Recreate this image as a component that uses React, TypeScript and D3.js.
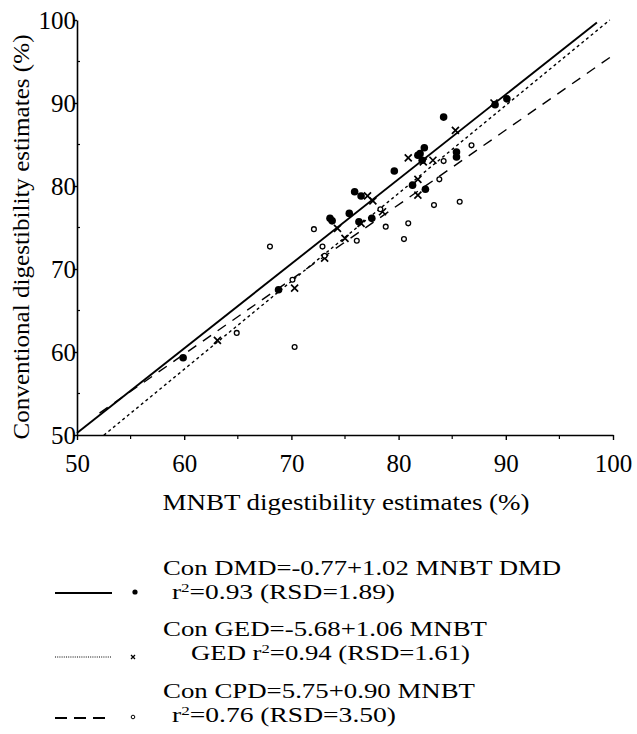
import React, { useEffect, useRef } from 'react';
import * as d3 from 'd3';

// DMD (filled circles)
const dmdX = [59.9, 68.8, 73.8, 73.6, 75.4, 75.9, 76.5, 76.3, 77.5, 79.6, 81.3, 81.8, 82.0, 82.4, 82.2, 82.5, 84.2, 85.4, 85.4, 89.0, 90.1];
const dmdY = [59.3, 67.5, 75.8, 76.1, 76.7, 79.3, 78.8, 75.7, 76.1, 81.8, 80.1, 83.7, 83.9, 84.6, 83.1, 79.6, 88.3, 84.1, 83.5, 89.8, 90.5];

// GED (crosses)
const gedX = [63.1, 70.3, 73.1, 74.3, 75.0, 76.5, 77.1, 77.6, 78.5, 80.9, 81.8, 81.8, 82.3, 83.2, 85.3, 88.9];
const gedY = [61.4, 67.7, 71.3, 74.9, 73.7, 75.5, 78.8, 78.2, 76.9, 83.4, 80.8, 78.9, 82.9, 83.1, 86.7, 90.0];

// CPD (open circles)
const cpdX = [64.9, 68.0, 70.1, 70.3, 72.1, 72.9, 73.1, 76.1, 78.3, 78.8, 80.5, 80.9, 83.3, 83.8, 84.2, 85.7, 86.8];
const cpdY = [62.3, 72.7, 68.7, 60.6, 74.8, 72.7, 71.6, 73.4, 77.2, 75.1, 73.6, 75.5, 77.7, 80.8, 83.0, 78.1, 84.9];

// regression lines: [intercept, slope, xStart, xEnd]
const dmdFit = [-0.77, 1.02, 50, 98.5];
const gedFit = [-5.68, 1.06, 52.5, 99.7];
const cpdFit = [5.75, 0.9, 52.1, 100];

const majorTicks = [50, 60, 70, 80, 90, 100];
const minorTicks = [55, 65, 75, 85, 95];

const legendText = [
  ['Con DMD=-0.77+1.02 MNBT DMD', 'r2=0.93 (RSD=1.89)'],
  ['Con GED=-5.68+1.06 MNBT', 'GED r2=0.94 (RSD=1.61)'],
  ['Con CPD=5.75+0.90 MNBT', 'r2=0.76 (RSD=3.50)'],
];

const font = '"Liberation Serif", "Times New Roman", serif';

const App = () => {
  const xAxisRef = useRef();
  const yAxisRef = useRef();

  const x = d3.scaleLinear().domain([50, 100]).range([77, 613]);
  const y = d3.scaleLinear().domain([50, 100]).range([435, 20]);

  useEffect(() => {
    const xa = d3.select(xAxisRef.current);
    xa.call(d3.axisBottom(x).tickValues(majorTicks).tickSize(5).tickSizeOuter(0).tickPadding(14).tickFormat(d3.format('d')));
    xa.select('.domain').attr('stroke-width', 1.6);
    xa.selectAll('.tick line').attr('stroke-width', 1.4);
    xa.selectAll('text').attr('font-size', 25).attr('font-family', font).attr('fill', '#000');

    const ya = d3.select(yAxisRef.current);
    ya.call(d3.axisLeft(y).tickValues(majorTicks).tickSize(4).tickSizeOuter(0).tickPadding(-3).tickFormat(d3.format('d')));
    ya.select('.domain').attr('stroke-width', 1.6);
    ya.selectAll('.tick line').attr('stroke-width', 1.4);
    ya.selectAll('text').attr('font-size', 25).attr('font-family', font).attr('fill', '#000');
  }, []);

  const fitLine = (fit) => {
    const [a, b, x0, x1] = fit;
    return d3.line().x((d) => x(d)).y((d) => y(a + b * d))([x0, x1]);
  };

  const legendRows = [
    { y: 593, dash: null, w: 2.2, kind: 'dot', ty: [575, 599], tx: [163, 172], tl: [398, 223] },
    { y: 657, dash: '1,1.2', w: 1, kind: 'x', ty: [636, 660], tx: [163, 191], tl: [324, 279] },
    { y: 718, dash: '12,7', w: 2.2, kind: 'o', ty: [698, 722], tx: [163, 172], tl: [312, 224] },
  ];

  const renderR2 = (s) => {
    const idx = s.indexOf('r2');
    return (
      <>
        {s.slice(0, idx)}r<tspan dy={-7} fontSize={13}>2</tspan>
        <tspan dy={7}>{s.slice(idx + 2)}</tspan>
      </>
    );
  };

  return (
    <svg width={637} height={734} style={{ position: 'absolute', left: 0, top: 0, background: '#fff' }} fontFamily={font}>
      <rect width={637} height={734} fill="#fff" />
      <g ref={xAxisRef} transform="translate(0,435)" />
      <g ref={yAxisRef} transform="translate(77,0)" />
      {minorTicks.map((t) => (
        <line key={'mx' + t} x1={x(t)} x2={x(t)} y1={435} y2={439} stroke="#000" strokeWidth={1.2} />
      ))}
      {minorTicks.map((t) => (
        <line key={'my' + t} x1={77} x2={80} y1={y(t)} y2={y(t)} stroke="#000" strokeWidth={1.2} />
      ))}

      <path d={fitLine(dmdFit)} stroke="#000" strokeWidth={1.9} fill="none" />
      <path d={fitLine(gedFit)} stroke="#000" strokeWidth={1.4} strokeDasharray="3,3" fill="none" />
      <path d={fitLine(cpdFit)} stroke="#000" strokeWidth={1.4} strokeDasharray="10,8" fill="none" />

      {dmdX.map((v, i) => (
        <circle key={'d' + i} cx={x(v)} cy={y(dmdY[i])} r={3.8} fill="#000" />
      ))}
      {gedX.map((v, i) => (
        <path key={'g' + i} d={`M${x(v) - 3.5},${y(gedY[i]) - 3.5}L${x(v) + 3.5},${y(gedY[i]) + 3.5}M${x(v) - 3.5},${y(gedY[i]) + 3.5}L${x(v) + 3.5},${y(gedY[i]) - 3.5}`} stroke="#000" strokeWidth={1.7} />
      ))}
      {cpdX.map((v, i) => (
        <circle key={'c' + i} cx={x(v)} cy={y(cpdY[i])} r={2.4} fill="#fff" stroke="#000" strokeWidth={1.3} />
      ))}

      <text x={346} y={510} fontSize={24} textAnchor="middle" textLength={367} lengthAdjust="spacingAndGlyphs">MNBT digestibility estimates (%)</text>
      <text transform="translate(29,237) rotate(-90)" fontSize={24} textAnchor="middle" textLength={405} lengthAdjust="spacingAndGlyphs">Conventional digestibility estimates (%)</text>

      {legendRows.map((r, i) => (
        <g key={'l' + i}>
          <line x1={55} x2={112} y1={r.y} y2={r.y} stroke="#000" strokeWidth={r.w} strokeDasharray={r.dash || undefined} />
          {r.kind === 'dot' && <circle cx={135} cy={r.y - 1} r={2.6} fill="#000" />}
          {r.kind === 'x' && <path d={`M131,${r.y - 2}L135,${r.y + 2}M131,${r.y + 2}L135,${r.y - 2}`} stroke="#000" strokeWidth={1.3} />}
          {r.kind === 'o' && <circle cx={133} cy={r.y - 1} r={1.8} fill="#fff" stroke="#000" strokeWidth={1} />}
          <text x={r.tx[0]} y={r.ty[0]} fontSize={21} textLength={r.tl[0]} lengthAdjust="spacingAndGlyphs">{legendText[i][0]}</text>
          <text x={r.tx[1]} y={r.ty[1]} fontSize={21} textLength={r.tl[1]} lengthAdjust="spacingAndGlyphs">{renderR2(legendText[i][1])}</text>
        </g>
      ))}
    </svg>
  );
};

export default App;
